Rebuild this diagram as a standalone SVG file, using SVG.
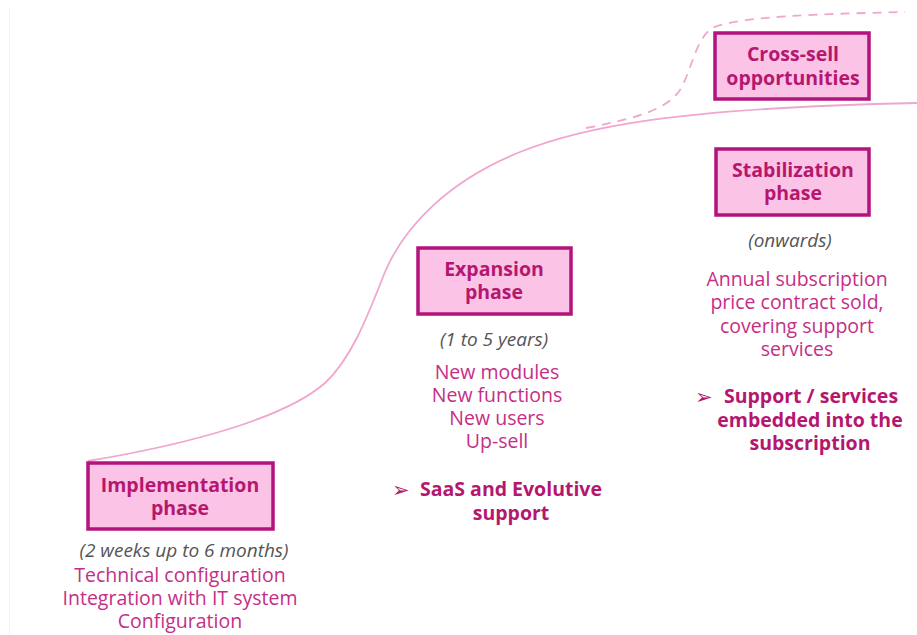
<svg xmlns="http://www.w3.org/2000/svg" width="917" height="635" viewBox="0 0 917 635">
  <style>
    .box { fill: #fbc3e6; stroke: #b3137c; stroke-width: 3.5; }
    .title { font-family: "Open Sans", "Liberation Sans", sans-serif; font-weight: bold; font-size: 19.5px; fill: #b5176f; text-anchor: middle; }
    .dur { font-family: "Open Sans", "Liberation Sans", sans-serif; font-style: italic; font-size: 19px; fill: #555555; text-anchor: middle; }
    .body { font-family: "Open Sans", "Liberation Sans", sans-serif; font-size: 19.5px; fill: #c52e86; text-anchor: middle; }
    .key { font-family: "Open Sans", "Liberation Sans", sans-serif; font-weight: bold; font-size: 19.5px; fill: #b5176f; text-anchor: middle; }
    .bullet { font-family: "DejaVu Sans", sans-serif; font-size: 21px; fill: #b5176f; }
    .curve { fill: none; stroke: #f0a6cf; stroke-width: 1.8; }
    .dash { fill: none; stroke: #f0a6cf; stroke-width: 1.8; stroke-dasharray: 9 7; }
  </style>
  <rect width="917" height="635" fill="#ffffff"/>
  <line x1="9.5" y1="8" x2="9.5" y2="635" stroke="#f3f3f3" stroke-width="1"/>

  <!-- growth curves -->
  <g id="connectors">
    <path class="curve" d="M88,461 C190,444 285,418 325,383 C352,358 368,315 385,272 C405,225 450,180 520,152 C580,128 670,108 917,103"/>
    <path class="dash" d="M586,128 C640,118 668,108 680,90 C692,70 695,40 712,28 C740,16 820,14 905,12"/>
  </g>

  <g id="implementation">
    <rect class="box" x="88" y="463" width="185" height="66"/>
    <text class="title" x="180" y="492">Implementation</text>
    <text class="title" x="180" y="515">phase</text>
    <text class="dur" x="184" y="557">(2 weeks up to 6 months)</text>
    <text class="body" x="180" y="582">Technical configuration</text>
    <text class="body" x="180" y="605">Integration with IT system</text>
    <text class="body" x="180" y="628">Configuration</text>
  </g>

  <g id="expansion">
    <rect class="box" x="418" y="248" width="153" height="66"/>
    <text class="title" x="494" y="276">Expansion</text>
    <text class="title" x="494" y="299">phase</text>
    <text class="dur" x="494" y="346">(1 to 5 years)</text>
    <text class="body" x="497" y="379">New modules</text>
    <text class="body" x="497" y="402">New functions</text>
    <text class="body" x="497" y="425">New users</text>
    <text class="body" x="497" y="448">Up-sell</text>
    <text class="bullet" x="392" y="497">➢</text>
    <text class="key" x="511" y="496">SaaS and Evolutive</text>
    <text class="key" x="511" y="520">support</text>
  </g>

  <g id="cross-sell">
    <rect class="box" x="715" y="33" width="154" height="66"/>
    <text class="title" x="793" y="61">Cross-sell</text>
    <text class="title" x="793" y="85">opportunities</text>
  </g>

  <g id="stabilization">
    <rect class="box" x="716" y="149" width="153" height="66"/>
    <text class="title" x="793" y="177">Stabilization</text>
    <text class="title" x="793" y="200">phase</text>
    <text class="dur" x="790" y="247">(onwards)</text>
    <text class="body" x="797" y="286">Annual subscription</text>
    <text class="body" x="797" y="309">price contract sold,</text>
    <text class="body" x="797" y="333">covering support</text>
    <text class="body" x="797" y="356">services</text>
    <text class="bullet" x="695" y="404">➢</text>
    <text class="key" x="811" y="403">Support / services</text>
    <text class="key" x="810" y="427">embedded into the</text>
    <text class="key" x="810" y="450">subscription</text>
  </g>
</svg>
